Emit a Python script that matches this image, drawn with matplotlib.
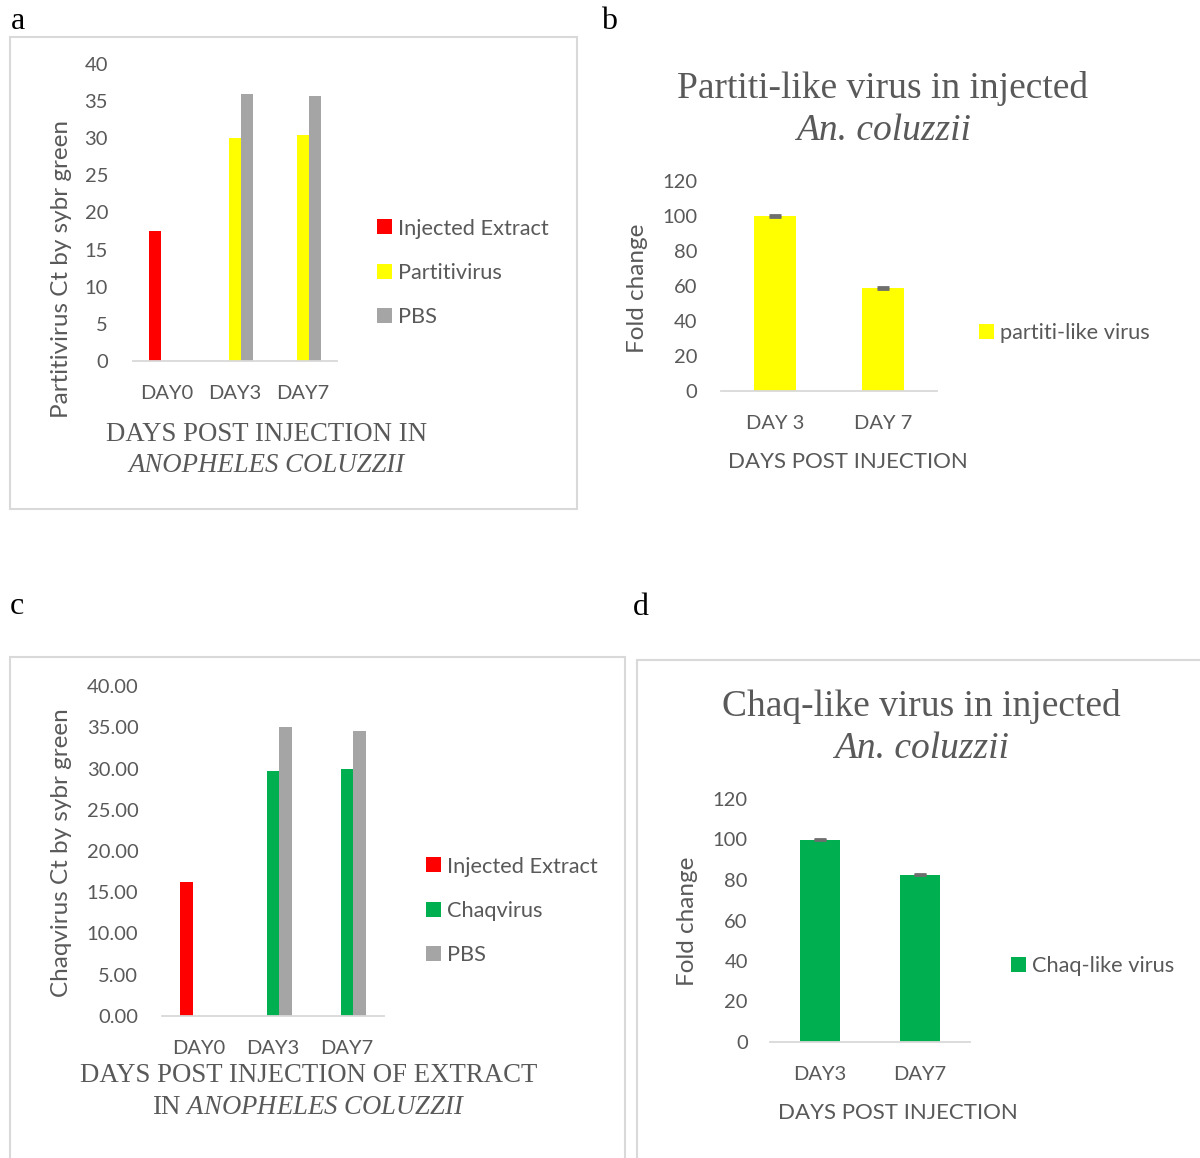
import numpy as np
import matplotlib
matplotlib.use('Agg')
import matplotlib.pyplot as plt
from matplotlib.patches import Rectangle

W, H = 1200, 1158
SANS = ['Lato', 'DejaVu Sans']
SERIF = ['Liberation Serif', 'DejaVu Serif']
TXT = '#595959'
AXC = '#D9D9D9'

plt.rcParams['font.family'] = SANS
plt.rcParams['mathtext.fontset'] = 'custom'
plt.rcParams['mathtext.rm'] = 'Liberation Serif'
plt.rcParams['mathtext.it'] = 'Liberation Serif:italic'

# ---------------- data ----------------
ct_days = ['DAY0', 'DAY3', 'DAY7']

partiti_labels = ['Injected Extract', 'Partitivirus', 'PBS']
partiti_extract = [17.5, None, None]
partiti_virus = [None, 30.0, 30.4]
partiti_pbs = [None, 36.0, 35.7]
partiti_colors = ['#FF0000', '#FFFF00', '#A5A5A5']

partiti_fc_days = ['DAY 3', 'DAY 7']
partiti_fc = [100.0, 58.9]
partiti_fc_err = [0.4, 0.4]

chaq_labels = ['Injected Extract', 'Chaqvirus', 'PBS']
chaq_extract = [16.2, None, None]
chaq_virus = [None, 29.7, 29.9]
chaq_pbs = [None, 35.0, 34.5]
chaq_colors = ['#FF0000', '#00B050', '#A5A5A5']

chaq_fc_days = ['DAY3', 'DAY7']
chaq_fc = [100.0, 82.7]
chaq_fc_err = [0.4, 0.4]

a_yticks = [0, 5, 10, 15, 20, 25, 30, 35, 40]
c_yticks = [0, 5, 10, 15, 20, 25, 30, 35, 40]
fc_yticks = [0, 20, 40, 60, 80, 100, 120]

# ---------------- helpers ----------------
fig = plt.figure(figsize=(W / 100, H / 100), dpi=100)


def fx(px):
    return px / W


def fy(py):
    return 1 - py / H


def add_ax(l, r, top, bottom):
    return fig.add_axes([l / W, 1 - bottom / H, (r - l) / W, (bottom - top) / H])


def arr(v):
    return np.array([np.nan if x is None else x for x in v], dtype=float)


def style(ax, ncat, yticks, fmt, xlabels, ypad, xpad=17):
    for s in ['top', 'right', 'left']:
        ax.spines[s].set_visible(False)
    ax.spines['bottom'].set_color(AXC)
    ax.spines['bottom'].set_linewidth(1.3)
    ax.set_xlim(-0.5, ncat - 0.5)
    ax.set_ylim(yticks[0], yticks[-1])
    ax.set_yticks(yticks)
    ax.set_yticklabels([fmt.format(t) for t in yticks])
    ax.set_xticks(range(ncat))
    ax.set_xticklabels(xlabels)
    ax.tick_params(axis='both', length=0, colors=TXT, labelsize=14.5)
    ax.tick_params(axis='y', pad=ypad)
    ax.tick_params(axis='x', pad=xpad)
    ax.patch.set_alpha(0)


def border(l, t, r, b):
    fig.patches.append(Rectangle((fx(l), fy(b)), fx(r) - fx(l), fy(t) - fy(b),
                                 transform=fig.transFigure, fill=False,
                                 edgecolor=AXC, linewidth=1.5))


def legend(ax, handles, labels, xl, yc, spacing):
    ax.legend(handles, labels, loc='center left', bbox_to_anchor=(fx(xl), fy(yc)),
              bbox_transform=fig.transFigure, frameon=False, fontsize=15.7,
              handlelength=0.68, handleheight=0.68, handletextpad=0.3,
              labelspacing=spacing, borderpad=0, borderaxespad=0,
              labelcolor=TXT)


def errbars(ax, x, vals, err):
    ax.errorbar(x, vals, yerr=err, fmt='none', ecolor='#6E6E6E',
                capsize=4.3, elinewidth=1, capthick=2)


# borders
border(10, 37, 577, 509)
border(10, 657, 625, 1170)
border(637, 660, 1210, 1170)

# panel letters
for letter, (x, y) in zip('abcd', [(18, 29), (609, 29), (17, 614), (641, 615)]):
    fig.text(fx(x), fy(y), letter, family=SERIF, fontsize=23, color='black',
             ha='center', va='baseline')

# ---------------- panel a ----------------
ax = add_ax(133, 337, 64, 361)
x = np.arange(len(ct_days))
w = 0.175
hs = []
for off, vals, col in zip([-w, 0, w], [partiti_extract, partiti_virus, partiti_pbs], partiti_colors):
    hs.append(ax.bar(x + off, arr(vals), width=w, color=col, linewidth=0))
style(ax, 3, a_yticks, '{:d}', ct_days, ypad=18)
legend(ax, hs, partiti_labels, 377, 273, 1.12)
fig.text(fx(62), fy(269), 'Partitivirus Ct by sybr green', rotation=90, fontsize=17.5,
         color=TXT, ha='center', va='center')
fig.text(fx(267), fy(434), 'DAYS POST INJECTION IN', family=SERIF, fontsize=19.3,
         color=TXT, ha='center', va='center')
fig.text(fx(267), fy(465), 'ANOPHELES COLUZZII', family=SERIF, style='italic',
         fontsize=19.3, color=TXT, ha='center', va='center')

# ---------------- panel b ----------------
ax = add_ax(721, 937, 181, 391)
x = np.arange(len(partiti_fc_days))
hb = ax.bar(x, partiti_fc, width=0.39, color='#FFFF00', linewidth=0)
errbars(ax, x, partiti_fc, partiti_fc_err)
style(ax, 2, fc_yticks, '{:d}', partiti_fc_days, ypad=17)
legend(ax, [hb], ['partiti-like virus'], 979, 333, 1.0)
fig.text(fx(638), fy(288), 'Fold change', rotation=90, fontsize=17.5,
         color=TXT, ha='center', va='center')
fig.text(fx(848), fy(462), 'DAYS POST INJECTION', fontsize=16, color=TXT,
         ha='center', va='center')
fig.text(fx(883), fy(89), 'Partiti-like virus in injected', family=SERIF, fontsize=27,
         color=TXT, ha='center', va='center')
fig.text(fx(883), fy(131), 'An. coluzzii', family=SERIF, style='italic', fontsize=27,
         color=TXT, ha='center', va='center')

# ---------------- panel c ----------------
ax = add_ax(162, 384, 686, 1016)
x = np.arange(len(ct_days))
w = 0.17
hs = []
for off, vals, col in zip([-w, 0, w], [chaq_extract, chaq_virus, chaq_pbs], chaq_colors):
    hs.append(ax.bar(x + off, arr(vals), width=w, color=col, linewidth=0))
style(ax, 3, c_yticks, '{:.2f}', ct_days, ypad=17)
legend(ax, hs, chaq_labels, 426, 911, 1.12)
fig.text(fx(62), fy(853), 'Chaqvirus Ct by sybr green', rotation=90, fontsize=17.5,
         color=TXT, ha='center', va='center')
fig.text(fx(309), fy(1076), 'DAYS POST INJECTION OF EXTRACT', family=SERIF, fontsize=19.3,
         color=TXT, ha='center', va='center')
fig.text(fx(309), fy(1107), r'IN $\mathit{ANOPHELES\ COLUZZII}$', family=SERIF,
         fontsize=19.3, color=TXT, ha='center', va='center')

# ---------------- panel d ----------------
ax = add_ax(770, 970, 799, 1042)
x = np.arange(len(chaq_fc_days))
hd = ax.bar(x, chaq_fc, width=0.4, color='#00B050', linewidth=0)
errbars(ax, x, chaq_fc, chaq_fc_err)
style(ax, 2, fc_yticks, '{:d}', chaq_fc_days, ypad=16)
legend(ax, [hd], ['Chaq-like virus'], 1011, 966, 1.0)
fig.text(fx(688), fy(921), 'Fold change', rotation=90, fontsize=17.5,
         color=TXT, ha='center', va='center')
fig.text(fx(898), fy(1113), 'DAYS POST INJECTION', fontsize=16, color=TXT,
         ha='center', va='center')
fig.text(fx(921), fy(707), 'Chaq-like virus in injected', family=SERIF, fontsize=27,
         color=TXT, ha='center', va='center')
fig.text(fx(921), fy(749), 'An. coluzzii', family=SERIF, style='italic', fontsize=27,
         color=TXT, ha='center', va='center')

fig.savefig('out.png', dpi=100, facecolor='white')
